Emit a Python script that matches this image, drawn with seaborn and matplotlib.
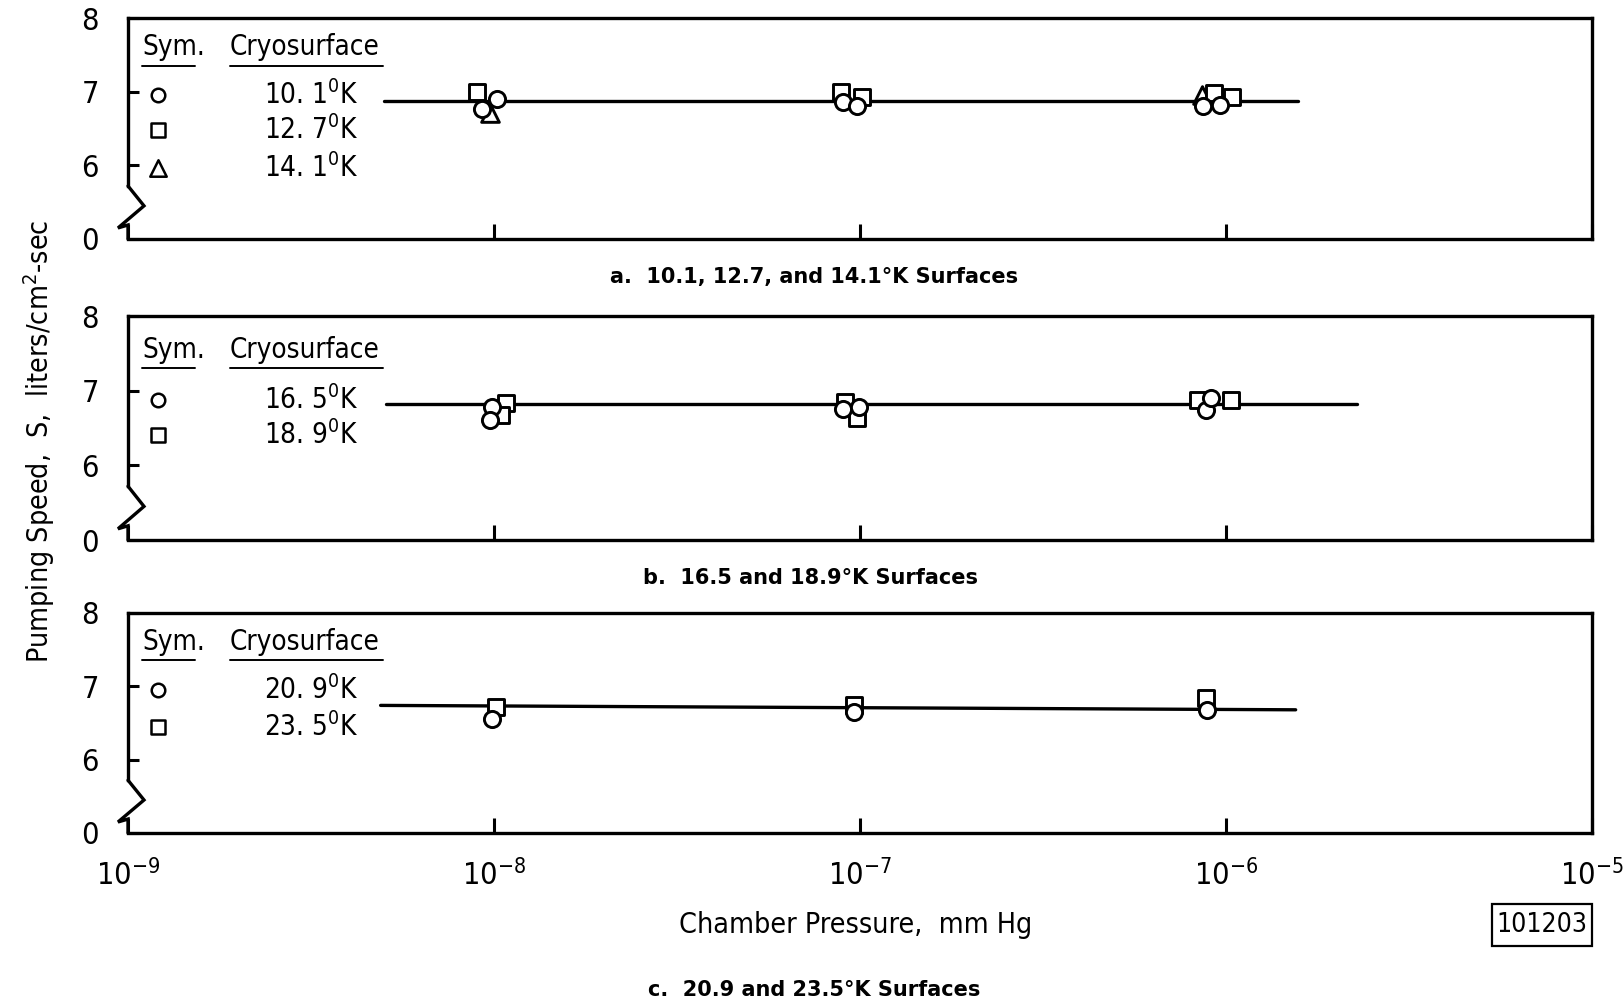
import matplotlib
matplotlib.use("Agg")
import matplotlib.pyplot as plt
import matplotlib.transforms as mtransforms
from matplotlib.patches import Rectangle
from matplotlib.ticker import NullLocator
from matplotlib import font_manager
import seaborn as sns

# ---------------- data ----------------
# (a) 10.1, 12.7 and 14.1 K surfaces
a_c_p = [9.25e-9, 1.02e-8, 9.0e-8, 9.8e-8, 8.63e-7, 9.6e-7]
a_c_s = [6.77, 6.90, 6.86, 6.80, 6.80, 6.82]
a_s_p = [9.0e-9, 8.9e-8, 1.01e-7, 9.3e-7, 1.04e-6]
a_s_s = [6.99, 7.00, 6.93, 6.98, 6.93]
a_t_p = [9.75e-9, 8.6e-7]
a_t_s = [6.71, 6.95]
a_fit_p = [5.0e-9, 1.57e-6]
a_fit_s = [6.87, 6.87]

# (b) 16.5 and 18.9 K surfaces
b_c_p = [9.9e-9, 9.75e-9, 9.0e-8, 9.95e-8, 8.8e-7, 9.1e-7]
b_c_s = [6.78, 6.61, 6.76, 6.78, 6.74, 6.90]
b_s_p = [1.08e-8, 1.045e-8, 9.1e-8, 9.8e-8, 8.4e-7, 1.03e-6]
b_s_s = [6.84, 6.67, 6.85, 6.63, 6.87, 6.87]
b_fit_p = [5.07e-9, 2.28e-6]
b_fit_s = [6.82, 6.82]

# (c) 20.9 and 23.5 K surfaces
c_c_p = [9.9e-9, 9.6e-8, 8.85e-7]
c_c_s = [6.56, 6.65, 6.68]
c_s_p = [1.01e-8, 9.6e-8, 8.8e-7]
c_s_s = [6.72, 6.75, 6.84]
c_fit_p = [4.9e-9, 1.55e-6]
c_fit_s = [6.74, 6.68]

legend_a = ["10. 1$^{0}$K", "12. 7$^{0}$K", "14. 1$^{0}$K"]
legend_b = ["16. 5$^{0}$K", "18. 9$^{0}$K"]
legend_c = ["20. 9$^{0}$K", "23. 5$^{0}$K"]

captions = ["a.  10.1, 12.7, and 14.1°K Surfaces",
            "b.  16.5 and 18.9°K Surfaces",
            "c.  20.9 and 23.5°K Surfaces"]

x_ticks = [1e-9, 1e-8, 1e-7, 1e-6, 1e-5]
x_tick_labels = ["10$^{-9}$", "10$^{-8}$", "10$^{-7}$", "10$^{-6}$", "10$^{-5}$"]
# the lowest tick stands for zero on the broken scale
y_ticks = [5, 6, 7, 8]
y_tick_labels = ["0", "6", "7", "8"]

# ---------------- style ----------------
sns.set_theme(style="white", rc={
    "axes.edgecolor": "black",
    "axes.linewidth": 2.4,
    "xtick.color": "black",
    "ytick.color": "black",
    "text.color": "black",
    "axes.labelcolor": "black",
    "xtick.bottom": True,
    "ytick.left": True,
})
entries = font_manager.fontManager.ttflist
if any(f.name == "DejaVu Sans" and f.stretch == "condensed" for f in entries):
    plt.rcParams["font.family"] = ["DejaVu Sans"]
    plt.rcParams["font.stretch"] = "condensed"
    MATH_RM = "DejaVu Sans:stretch=condensed"
    K = 1.0
else:
    plt.rcParams["font.family"] = ["DejaVu Sans"]
    MATH_RM = "DejaVu Sans"
    K = 0.91
plt.rcParams["mathtext.fontset"] = "custom"
plt.rcParams["mathtext.rm"] = MATH_RM
plt.rcParams["mathtext.it"] = MATH_RM
plt.rcParams["mathtext.default"] = "rm"

FW, FH = 1624, 1007
fig = plt.figure(figsize=(FW / 100, FH / 100), dpi=100)
fig.patch.set_facecolor("white")

AX_L, AX_R = 128, 1592
AX_W = AX_R - AX_L

MS = 135          # marker area (pt^2)
MEW = 2.1
LEG_FS = 20 * K
TICK_FS = 22


def add_panel(top, bottom):
    ax = fig.add_axes([AX_L / FW, 1 - bottom / FH, AX_W / FW, (bottom - top) / FH])
    ax.set_xscale("log")
    ax.set_xlim(1e-9, 1e-5)
    ax.set_ylim(5, 8)
    ax.set_xticks(x_ticks, x_tick_labels)
    ax.xaxis.set_minor_locator(NullLocator())
    ax.set_yticks(y_ticks, y_tick_labels)
    ax.tick_params(axis="x", which="major", bottom=True, direction="in", length=11,
                   width=2.2, pad=19, labelsize=TICK_FS)
    ax.tick_params(axis="y", which="major", left=True, direction="in", length=8,
                   width=2.2, pad=21, labelsize=TICK_FS)
    ax.grid(False)
    # broken left spine with zig-zag
    ax.spines["left"].set_bounds(5.72, 8)
    trans = mtransforms.blended_transform_factory(ax.transAxes, ax.transData)
    ax.plot([0, 16 / AX_W, -10 / AX_W, 0, 0], [5.72, 5.45, 5.15, 5.19, 5.0],
            transform=trans, color="black", lw=2.4, clip_on=False,
            solid_joinstyle="miter", zorder=5)
    return ax, bottom - top


def scatter(ax, p, s, marker, size, z):
    sns.scatterplot(x=p, y=s, ax=ax, marker=marker, s=size, facecolor="white",
                    edgecolor="black", linewidth=MEW, zorder=z, legend=False)


def fit(ax, p, s):
    sns.lineplot(x=p, y=s, ax=ax, color="black", lw=2.4, zorder=2, legend=False)


def key(ax, h, sym_dy, ul_dy, rows):
    fx = lambda dx: dx / AX_W
    fy = lambda dy: 1 - dy / h
    ax.text(fx(14), fy(sym_dy), "Sym.", ha="left", va="center", fontsize=LEG_FS,
            transform=ax.transAxes)
    ax.text(fx(102), fy(sym_dy), "Cryosurface", ha="left", va="center", fontsize=LEG_FS,
            transform=ax.transAxes)
    for x0, x1 in [(14, 67), (102, 255)]:
        ax.plot([fx(x0), fx(x1)], [fy(ul_dy)] * 2, transform=ax.transAxes,
                color="black", lw=1.4, clip_on=False)
    for marker, size, label, dy in rows:
        ax.scatter([fx(30)], [fy(dy)], marker=marker, s=size, facecolor="white",
                   edgecolor="black", linewidth=1.8, transform=ax.transAxes,
                   clip_on=False, zorder=6)
        ax.text(fx(136), fy(dy), label, ha="left", va="center", fontsize=LEG_FS,
                transform=ax.transAxes)


# ---- panel a ----
ax_a, h_a = add_panel(18, 239)
fit(ax_a, a_fit_p, a_fit_s)
scatter(ax_a, a_t_p, a_t_s, "^", MS * 1.2, 3)
scatter(ax_a, a_s_p, a_s_s, "s", MS * 0.95, 4)
scatter(ax_a, a_c_p, a_c_s, "o", MS, 5)
key(ax_a, h_a, 29, 48, [("o", 95, legend_a[0], 77),
                        ("s", 90, legend_a[1], 112),
                        ("^", 140, legend_a[2], 150)])
ax_a.tick_params(axis="x", labelbottom=False)

# ---- panel b ----
ax_b, h_b = add_panel(316, 540)
fit(ax_b, b_fit_p, b_fit_s)
scatter(ax_b, b_s_p, b_s_s, "s", MS * 0.95, 4)
scatter(ax_b, b_c_p, b_c_s, "o", MS, 5)
key(ax_b, h_b, 34, 52, [("o", 95, legend_b[0], 84),
                        ("s", 90, legend_b[1], 119)])
ax_b.tick_params(axis="x", labelbottom=False)

# ---- panel c ----
ax_c, h_c = add_panel(613, 833)
fit(ax_c, c_fit_p, c_fit_s)
scatter(ax_c, c_s_p, c_s_s, "s", MS * 0.95, 4)
scatter(ax_c, c_c_p, c_c_s, "o", MS, 5)
key(ax_c, h_c, 29, 47, [("o", 95, legend_c[0], 77),
                        ("s", 90, legend_c[1], 114)])

for ax in (ax_a, ax_b, ax_c):
    ax.set_xlabel("")
    ax.set_ylabel("")

# ---- captions and axis titles ----
for (cx, cy), text in zip([(814, 277), (811, 578), (814, 990)], captions):
    fig.text(cx / FW, 1 - cy / FH, text, ha="center", va="center", fontsize=15,
             fontweight="bold", family="DejaVu Sans", fontstretch="normal")

fig.text(39 / FW, 1 - 441 / FH, "Pumping Speed,  S,  liters/cm$^{2}$-sec",
         rotation=90, ha="center", va="center", fontsize=20.5 * K)
fig.text(856 / FW, 1 - 925 / FH, "Chamber Pressure,  mm Hg",
         ha="center", va="center", fontsize=20.5 * K)

# figure number box
fig.add_artist(Rectangle((1492 / FW, 1 - 946 / FH), 100 / FW, 42 / FH,
                         transform=fig.transFigure, fill=False,
                         edgecolor="black", lw=1.6))
fig.text(1542 / FW, 1 - 925 / FH, "101203", ha="center", va="center", fontsize=19 * K)

fig.savefig("out.png", dpi=100, facecolor="white")
